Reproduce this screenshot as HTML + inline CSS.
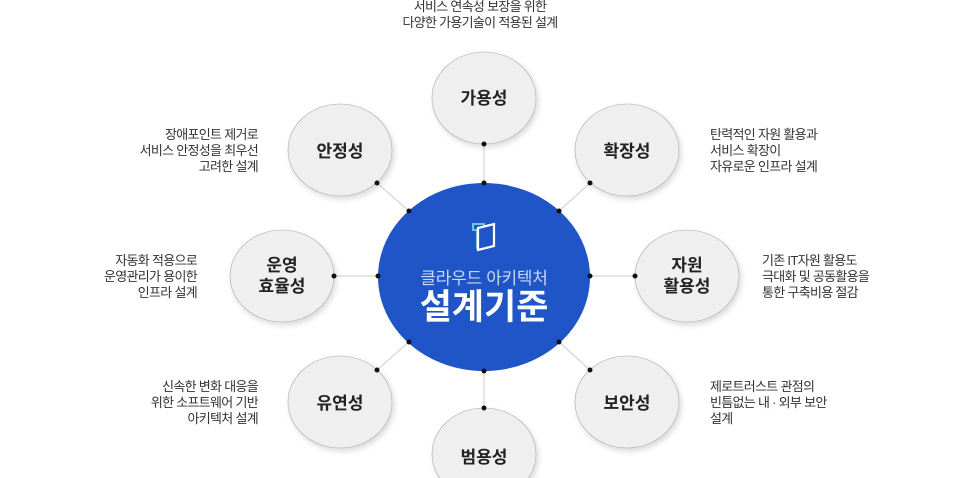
<!DOCTYPE html>
<html><head><meta charset="utf-8"><style>
html,body{margin:0;padding:0;background:#fff;width:979px;height:478px;overflow:hidden}
svg{display:block}
text{font-family:"Liberation Sans","Noto Sans CJK KR",sans-serif}
.d{font-size:13px;fill:#333;letter-spacing:-0.7px}
.n{font-size:17px;font-weight:bold;fill:#222}
</style></head><body>
<svg width="979" height="478" viewBox="0 0 979 478" xmlns="http://www.w3.org/2000/svg">
<defs>
<filter id="sh" x="-20%" y="-20%" width="150%" height="150%">
<feDropShadow dx="2" dy="3" stdDeviation="3" flood-color="#000" flood-opacity="0.15"/>
</filter>
</defs>
<g stroke="#ccc" stroke-width="1">
<line x1="484" y1="144" x2="484" y2="183"/>
<line x1="377" y1="183" x2="409" y2="211"/>
<line x1="590" y1="183" x2="559" y2="211"/>
<line x1="334" y1="276" x2="378" y2="276"/>
<line x1="635" y1="276" x2="590" y2="276"/>
<line x1="377" y1="370" x2="409" y2="342"/>
<line x1="590" y1="370" x2="559" y2="342"/>
<line x1="484" y1="371" x2="484" y2="408"/>
</g>
<g fill="#efefef" stroke="#aaa" stroke-width="0.6" filter="url(#sh)">
<ellipse cx="484" cy="98" rx="52" ry="46"/>
<ellipse cx="340" cy="150" rx="52" ry="46"/>
<ellipse cx="627" cy="150" rx="52" ry="46"/>
<ellipse cx="282" cy="276" rx="52" ry="46"/>
<ellipse cx="687" cy="276" rx="52" ry="46"/>
<ellipse cx="340" cy="402" rx="52" ry="46"/>
<ellipse cx="627" cy="402" rx="52" ry="46"/>
<ellipse cx="484" cy="454" rx="52" ry="46"/>
</g>
<ellipse cx="484" cy="277" rx="106" ry="94" fill="#1f55c6"/>
<g transform="translate(472,222)">
<path d="M1 2 H12 V26 H5 V8 H1 Z" fill="none" stroke="#6cc6e0" stroke-width="2"/>
<path d="M6 6 L22 2 V24 L6 28 Z" fill="#1f55c6" stroke="#fff" stroke-width="2.2"/>
</g>
<text x="484" y="284" text-anchor="middle" font-size="17" fill="#c8d8f5" letter-spacing="-0.3">클라우드 아키텍처</text>
<text x="484" y="319" text-anchor="middle" font-size="35" font-weight="bold" fill="#fff">설계기준</text>
<g fill="#111">
<circle cx="484" cy="144" r="2.5"/><circle cx="484" cy="183" r="2.5"/>
<circle cx="377" cy="183" r="2.5"/><circle cx="409" cy="211" r="2.5"/>
<circle cx="590" cy="183" r="2.5"/><circle cx="559" cy="211" r="2.5"/>
<circle cx="334" cy="276" r="2.5"/><circle cx="378" cy="276" r="2.5"/>
<circle cx="635" cy="276" r="2.5"/><circle cx="590" cy="276" r="2.5"/>
<circle cx="377" cy="370" r="2.5"/><circle cx="409" cy="342" r="2.5"/>
<circle cx="590" cy="370" r="2.5"/><circle cx="559" cy="342" r="2.5"/>
<circle cx="484" cy="371" r="2.5"/><circle cx="484" cy="408" r="2.5"/>
</g>
<g class="n" text-anchor="middle">
<text x="484" y="104" class="n">가용성</text>
<text x="340" y="157" class="n">안정성</text>
<text x="627" y="157" class="n">확장성</text>
<text x="282" y="271" class="n">운영</text>
<text x="282" y="292" class="n">효율성</text>
<text x="687" y="271" class="n">자원</text>
<text x="687" y="292" class="n">활용성</text>
<text x="340" y="409" class="n">유연성</text>
<text x="627" y="409" class="n">보안성</text>
<text x="484" y="463" class="n">범용성</text>
</g>
<g class="d" text-anchor="middle">
<text x="480" y="11">서비스 연속성 보장을 위한</text>
<text x="480" y="27">다양한 가용기술이 적용된 설계</text>
</g>
<g class="d" text-anchor="end">
<text x="258" y="139">장애포인트 제거로</text>
<text x="258" y="155">서비스 안정성을 최우선</text>
<text x="258" y="171">고려한 설계</text>
<text x="197" y="265">자동화 적용으로</text>
<text x="197" y="281">운영관리가 용이한</text>
<text x="197" y="297">인프라 설계</text>
<text x="258" y="391">신속한 변화 대응을</text>
<text x="258" y="407">위한 소프트웨어 기반</text>
<text x="258" y="423">아키텍처 설계</text>
</g>
<g class="d">
<text x="710" y="139">탄력적인 자원 활용과</text>
<text x="710" y="155">서비스 확장이</text>
<text x="710" y="171">자유로운 인프라 설계</text>
<text x="762" y="265">기존 IT자원 활용도</text>
<text x="762" y="281">극대화 및 공동활용을</text>
<text x="762" y="297">통한 구축비용 절감</text>
<text x="710" y="391">제로트러스트 관점의</text>
<text x="710" y="407">빈틈없는 내 · 외부 보안</text>
<text x="710" y="423">설계</text>
</g>
</svg>
</body></html>
